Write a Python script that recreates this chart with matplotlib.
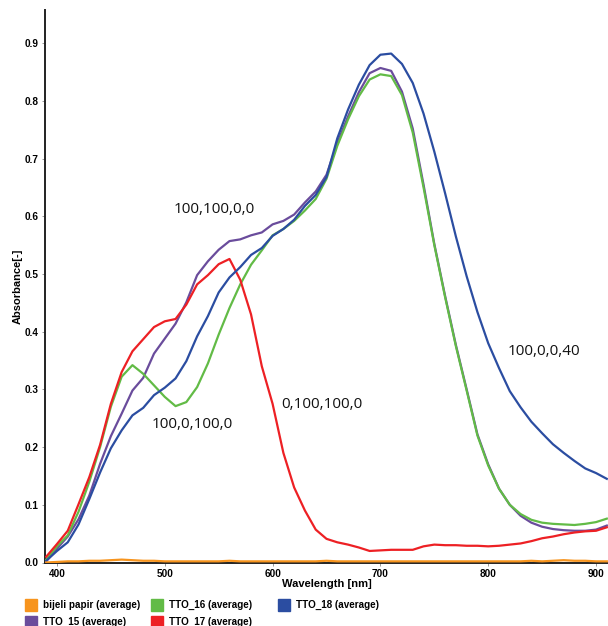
import matplotlib
matplotlib.use("Agg")
import matplotlib.pyplot as plt
from matplotlib.lines import Line2D

wavelength = [390, 400, 410, 420, 430, 440, 450, 460, 470, 480, 490, 500, 510, 520, 530,
              540, 550, 560, 570, 580, 590, 600, 610, 620, 630, 640, 650, 660, 670, 680,
              690, 700, 710, 720, 730, 740, 750, 760, 770, 780, 790, 800, 810, 820, 830,
              840, 850, 860, 870, 880, 890, 900, 910]

bijeli_papir = [0.000, 0.001, 0.002, 0.002, 0.003, 0.003, 0.004, 0.005, 0.004, 0.003, 0.003,
                0.002, 0.002, 0.002, 0.002, 0.002, 0.002, 0.003, 0.002, 0.002, 0.002, 0.002,
                0.002, 0.002, 0.002, 0.002, 0.003, 0.002, 0.002, 0.002, 0.002, 0.002, 0.002,
                0.002, 0.002, 0.002, 0.002, 0.002, 0.002, 0.002, 0.002, 0.002, 0.002, 0.002,
                0.002, 0.003, 0.002, 0.003, 0.004, 0.003, 0.003, 0.002, 0.002]

tto_15 = [0.002, 0.024, 0.045, 0.075, 0.116, 0.171, 0.219, 0.258, 0.298, 0.320, 0.362,
          0.388, 0.414, 0.451, 0.498, 0.522, 0.542, 0.557, 0.560, 0.567, 0.572, 0.586,
          0.592, 0.603, 0.624, 0.643, 0.672, 0.727, 0.773, 0.815, 0.848, 0.857, 0.852,
          0.816, 0.752, 0.655, 0.552, 0.462, 0.377, 0.300, 0.222, 0.170, 0.128, 0.100,
          0.081, 0.069, 0.062, 0.058, 0.056, 0.055, 0.055, 0.057, 0.064]

tto_16 = [0.005, 0.028, 0.047, 0.088, 0.140, 0.200, 0.270, 0.322, 0.342, 0.327, 0.307,
          0.287, 0.271, 0.278, 0.304, 0.345, 0.395, 0.441, 0.482, 0.516, 0.541, 0.567,
          0.578, 0.592, 0.610, 0.630, 0.665, 0.722, 0.768, 0.808, 0.837, 0.846, 0.843,
          0.810, 0.745, 0.650, 0.550, 0.460, 0.375, 0.298, 0.220, 0.168, 0.128, 0.100,
          0.084, 0.074, 0.069, 0.067, 0.066, 0.065, 0.067, 0.070, 0.076]

tto_17 = [0.010, 0.032, 0.055, 0.101, 0.148, 0.204, 0.275, 0.330, 0.366, 0.387, 0.408,
          0.418, 0.422, 0.447, 0.482, 0.498, 0.517, 0.526, 0.490, 0.430, 0.340, 0.275,
          0.190, 0.130, 0.090, 0.057, 0.041, 0.035, 0.031, 0.026, 0.020, 0.021, 0.022,
          0.022, 0.022, 0.028, 0.031, 0.030, 0.030, 0.029, 0.029, 0.028, 0.029, 0.031,
          0.033, 0.037, 0.042, 0.045, 0.049, 0.052, 0.054, 0.055, 0.061]

tto_18 = [0.003, 0.020, 0.035, 0.066, 0.110, 0.156, 0.198, 0.229, 0.255, 0.268, 0.290,
          0.303, 0.319, 0.349, 0.392, 0.427, 0.468, 0.494, 0.512, 0.533, 0.545, 0.566,
          0.578, 0.594, 0.618, 0.637, 0.668, 0.735, 0.785, 0.828, 0.862, 0.880, 0.882,
          0.864, 0.831, 0.778, 0.712, 0.640, 0.565, 0.496, 0.434, 0.380, 0.337, 0.297,
          0.269, 0.244, 0.224, 0.205, 0.190, 0.176, 0.163, 0.155, 0.145]

series_labels = ["bijeli papir (average)", "TTO_15 (average)", "TTO_16 (average)",
                 "TTO_17 (average)", "TTO_18 (average)"]
annotation_texts = ["100,100,0,0", "100,0,100,0", "0,100,100,0", "100,0,0,40"]
annotation_pos = [(545.6, 0.612), (525.7, 0.239), (645.8, 0.274), (851.3, 0.366)]

colors = {"orange": "#F7941D", "purple": "#6A4C9C", "green": "#62BB46",
          "red": "#ED2024", "blue": "#2B4DA1"}

W, H = 608, 626
fig = plt.figure(figsize=(W / 100, H / 100), dpi=100)
ax = fig.add_axes([45 / W, 1 - 562.5 / H, 1 - 45 / W, (562.5 - 10) / H])

series = [bijeli_papir, tto_15, tto_16, tto_17, tto_18]
cols = [colors["orange"], colors["purple"], colors["green"], colors["red"], colors["blue"]]
zorders = [5, 3, 3, 3, 3]
for y, c, z, lab in zip(series, cols, zorders, series_labels):
    ax.plot(wavelength, y, color=c, lw=1.6, zorder=z, label=lab)

ax.set_xlim(388.9, 911.1)
ax.set_ylim(0, 0.9575)
ax.set_xticks([400, 500, 600, 700, 800, 900])
ax.set_yticks([0.0, 0.1, 0.2, 0.3, 0.4, 0.5, 0.6, 0.7, 0.8, 0.9])
ax.set_yticklabels([f"{v:.1f}" for v in ax.get_yticks()])

for lbl in ax.get_xticklabels() + ax.get_yticklabels():
    lbl.set_family("Liberation Sans")
    lbl.set_weight("bold")
    lbl.set_size(7.2)
ax.tick_params(axis="both", length=2, width=0.6, color="#888888", pad=2.5)

for s in ["top", "right"]:
    ax.spines[s].set_visible(False)
for s in ["left", "bottom"]:
    ax.spines[s].set_linewidth(1.4)
    ax.spines[s].set_color("#222222")

ax.set_xlabel("Wavelength [nm]", family="Liberation Sans", weight="bold", size=8, labelpad=0)
ax.set_ylabel("Absorbance[-]", family="Liberation Sans", weight="bold", size=8, labelpad=1.5)

for t, (x, y) in zip(annotation_texts, annotation_pos):
    ax.text(x, y, t, ha="center", va="center", family="Open Sans", size=11, color="#111111")

# legend: three fixed-width columns
handles = [Line2D([], [], marker="s", ls="none", markersize=8.5, color=c) for c in cols]
col_groups = [[0, 1], [2, 3], [4]]
col_left = [24.8, 151.5, 278.5]
for grp, xl in zip(col_groups, col_left):
    fig.legend([handles[i] for i in grp], [series_labels[i] for i in grp],
               loc="upper left", bbox_to_anchor=(xl / W, 1 - 600 / H),
               ncol=1, frameon=False,
               prop=dict(family="Liberation Sans", weight="bold", size=7.1),
               handletextpad=0.6, labelspacing=0.72, borderpad=0, borderaxespad=0,
               handlelength=1.2)

fig.savefig("out.png", dpi=100)
